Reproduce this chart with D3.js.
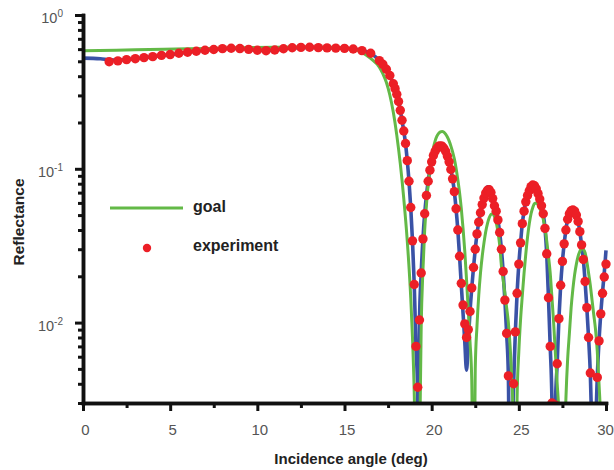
<!DOCTYPE html>
<html>
<head>
<meta charset="utf-8">
<script src="https://cdn.jsdelivr.net/npm/d3@7"></script>
<style>
  body { margin: 0; background: #fff; }
  svg { display: block; }
</style>
</head>
<body>
<svg id="chart" width="614" height="470"></svg>
<script>
// Reflectance versus incidence angle: design target (goal), fitted model and measured points.

// Design target curve [angle (deg), reflectance]
const goalCurve = [
  [0,0.586],[3,0.594],[6,0.603],[9,0.612],[11,0.617],[13,0.619],[14,0.617],[15,0.611],[15.5,0.600],
  [16,0.572],[16.5,0.522],[17,0.458],[17.2,0.415],[17.4,0.365],[17.6,0.302],[17.8,0.233],[18,0.165],
  [18.2,0.108],[18.4,0.064],[18.6,0.034],[18.8,0.0145],[18.9,0.0080],[19,0.0035],[19.1,0.0009],
  [19.2,0.0002],[19.3,0.0012],[19.4,0.0095],[19.5,0.022],[19.6,0.040],[19.7,0.058],[19.8,0.079],
  [19.9,0.100],[20,0.120],[20.1,0.137],[20.2,0.152],[20.3,0.163],[20.4,0.170],[20.5,0.174],[20.6,0.175],
  [20.7,0.173],[20.8,0.168],[20.9,0.161],[21,0.152],[21.1,0.141],[21.2,0.129],[21.3,0.116],[21.4,0.101],
  [21.5,0.085],[21.6,0.070],[21.7,0.055],[21.8,0.041],[21.9,0.029],[22,0.019],[22.1,0.012],[22.2,0.0075],
  [22.3,0.0042],[22.4,0.0003],[22.5,0.0050],[22.6,0.0095],[22.7,0.015],[22.8,0.021],[22.9,0.027],
  [23,0.033],[23.1,0.039],[23.2,0.044],[23.3,0.048],[23.4,0.0505],[23.5,0.051],[23.6,0.049],[23.7,0.045],
  [23.8,0.039],[23.9,0.032],[24,0.0235],[24.1,0.019],[24.2,0.0155],[24.3,0.0125],[24.4,0.0100],
  [24.5,0.0070],[24.6,0.0042],[24.7,0.0020],[24.8,0.0003],[24.9,0.0032],[25,0.0065],[25.1,0.0105],
  [25.2,0.015],[25.3,0.021],[25.4,0.028],[25.5,0.036],[25.6,0.044],[25.7,0.051],[25.8,0.056],[25.9,0.0595],
  [26,0.060],[26.1,0.0585],[26.2,0.0555],[26.3,0.0515],[26.4,0.047],[26.5,0.041],[26.6,0.034],[26.7,0.027],
  [26.8,0.021],[26.9,0.0145],[27,0.0098],[27.1,0.0062],[27.2,0.0040],[27.3,0.0026],[27.4,0.0012],
  [27.5,0.0003],[27.6,0.0012],[27.7,0.0032],[27.8,0.0058],[27.9,0.0085],[28,0.0125],[28.1,0.0165],
  [28.2,0.0205],[28.3,0.024],[28.4,0.027],[28.5,0.029],[28.6,0.0305],[28.7,0.030],[28.8,0.0285],
  [28.9,0.025],[29,0.021],[29.1,0.0175],[29.2,0.014],[29.3,0.0112],[29.4,0.009],[29.5,0.0065],
  [29.6,0.004],[29.7,0.0022],[29.8,0.0006],[29.85,0.0002],[29.9,0.0008],[30,0.003]
];

// Fitted model curve [angle (deg), reflectance]
const fitCurve = [
  [0,0.524],[1,0.519],[1.5,0.512],[2,0.509],[3,0.520],[4,0.536],[5,0.553],[6,0.573],[7,0.590],
  [8,0.604],[8.5,0.607],[9,0.605],[10,0.591],[10.5,0.587],[11,0.592],[12,0.611],[13,0.616],[14,0.611],
  [15,0.607],[15.5,0.601],[16,0.587],[16.5,0.564],[17,0.506],[17.2,0.478],[17.4,0.444],[17.6,0.404],
  [17.8,0.357],[17.9,0.332],[18,0.305],[18.1,0.274],[18.2,0.240],[18.3,0.207],[18.4,0.176],[18.5,0.146],
  [18.6,0.113],[18.7,0.083],[18.8,0.056],[18.9,0.034],[19,0.0177],[19.1,0.0070],[19.2,0.0035],
  [19.24,0.0001],[19.3,0.0100],[19.4,0.021],[19.5,0.035],[19.6,0.051],[19.7,0.067],[19.8,0.083],
  [19.9,0.098],[20,0.111],[20.1,0.122],[20.2,0.131],[20.3,0.137],[20.4,0.141],[20.5,0.142],[20.6,0.141],
  [20.7,0.137],[20.8,0.130],[20.9,0.121],[21,0.111],[21.1,0.099],[21.2,0.086],[21.3,0.071],[21.4,0.055],
  [21.5,0.040],[21.6,0.027],[21.7,0.0175],[21.8,0.0115],[21.9,0.0075],[22,0.0049],[22.1,0.0075],
  [22.2,0.0118],[22.3,0.0168],[22.4,0.0228],[22.5,0.030],[22.6,0.0377],[22.7,0.045],[22.8,0.0525],
  [22.9,0.0595],[23,0.066],[23.1,0.0715],[23.2,0.0765],[23.3,0.0765],[23.4,0.0720],[23.5,0.0650],
  [23.6,0.0585],[23.7,0.0530],[23.8,0.0465],[23.9,0.0385],[24,0.030],[24.1,0.0215],[24.2,0.0140],
  [24.3,0.0085],[24.4,0.0045],[24.5,0.0003],[24.6,0.0012],[24.7,0.0040],[24.8,0.0087],[24.9,0.0155],
  [25,0.024],[25.1,0.033],[25.2,0.044],[25.3,0.053],[25.4,0.061],[25.5,0.0675],[25.6,0.073],[25.7,0.0775],
  [25.8,0.080],[25.9,0.079],[26,0.075],[26.1,0.070],[26.2,0.064],[26.3,0.058],[26.4,0.051],[26.5,0.041],
  [26.6,0.028],[26.7,0.0145],[26.8,0.0070],[26.9,0.0030],[27,0.0002],[27.1,0.0029],[27.2,0.0054],
  [27.3,0.0106],[27.4,0.0175],[27.5,0.025],[27.6,0.0325],[27.7,0.040],[27.8,0.047],[27.9,0.0515],
  [28,0.0545],[28.1,0.0555],[28.2,0.0545],[28.3,0.051],[28.4,0.0455],[28.5,0.039],[28.6,0.032],
  [28.7,0.0257],[28.8,0.0185],[28.9,0.0125],[29,0.0080],[29.1,0.0047],[29.2,0.0018],[29.3,0.0004],
  [29.4,0.0018],[29.5,0.0044],[29.6,0.0076],[29.7,0.0114],[29.8,0.0158],[29.9,0.021],[30,0.0295]
];

// Measured reflectance [angle (deg), reflectance]
const experimentPoints = [
  [1.5,0.497],[2,0.503],[2.5,0.513],[3,0.520],[3.5,0.528],[4,0.536],[4.5,0.546],[5,0.553],[5.5,0.564],
  [6,0.573],[6.5,0.581],[7,0.590],[7.5,0.597],[8,0.604],[8.5,0.608],[9,0.605],[9.5,0.598],[10,0.590],
  [10.5,0.586],[11,0.592],[11.5,0.603],[12,0.612],[12.5,0.616],[13,0.617],[13.5,0.614],[14,0.611],
  [14.5,0.609],[15,0.607],[15.5,0.601],[16,0.587],[16.5,0.564],[17,0.505],[17.2,0.478],[17.4,0.444],
  [17.6,0.404],[17.8,0.357],[17.9,0.332],[18,0.305],[18.1,0.274],[18.2,0.240],[18.3,0.207],[18.4,0.176],
  [18.5,0.146],[18.6,0.113],[18.7,0.083],[18.8,0.056],[18.9,0.034],[19,0.0177],[19.1,0.0070],
  [19.2,0.0038],[19.3,0.0104],[19.4,0.0210],[19.5,0.0350],[19.6,0.0510],[19.7,0.0670],[19.8,0.0830],
  [19.9,0.0980],[20,0.111],[20.1,0.122],[20.2,0.130],[20.3,0.136],[20.4,0.140],[20.5,0.141],[20.6,0.140],
  [20.7,0.136],[20.8,0.130],[20.9,0.121],[21,0.111],[21.1,0.099],[21.2,0.086],[21.3,0.071],[21.4,0.055],
  [21.5,0.040],[21.6,0.027],[21.7,0.018],[21.8,0.0130],[21.9,0.0098],[22,0.0080],[22.1,0.0090],
  [22.2,0.0118],[22.3,0.0168],[22.4,0.0228],[22.5,0.0300],[22.6,0.0377],[22.7,0.0450],[22.8,0.0518],
  [22.9,0.0585],[23,0.0645],[23.1,0.0695],[23.2,0.0725],[23.3,0.0730],[23.4,0.0700],[23.5,0.0640],
  [23.6,0.0575],[23.7,0.0530],[23.8,0.0465],[23.9,0.0385],[24,0.0300],[24.1,0.0215],[24.2,0.0140],
  [24.3,0.0085],[24.4,0.0045],[24.5,0.0012],[24.6,0.0014],[24.7,0.0040],[24.8,0.0087],[24.9,0.0155],
  [25,0.0240],[25.1,0.0330],[25.2,0.0440],[25.3,0.0530],[25.4,0.0610],[25.5,0.0670],[25.6,0.0720],
  [25.7,0.0765],[25.8,0.0785],[25.9,0.0775],[26,0.0740],[26.1,0.0690],[26.2,0.0635],[26.3,0.0575],
  [26.4,0.0510],[26.5,0.0410],[26.6,0.0280],[26.7,0.0145],[26.8,0.0070],[26.9,0.0030],[27,0.0007],
  [27.1,0.0029],[27.2,0.0054],[27.3,0.0106],[27.4,0.0175],[27.5,0.0250],[27.6,0.0325],[27.7,0.0400],
  [27.8,0.0470],[27.9,0.0510],[28,0.0533],[28.1,0.0540],[28.2,0.0530],[28.3,0.0500],[28.4,0.0455],
  [28.5,0.0390],[28.6,0.0320],[28.7,0.0257],[28.8,0.0185],[28.9,0.0125],[29,0.0080],[29.1,0.0047],
  [29.2,0.0020],[29.3,0.0008],[29.4,0.0020],[29.5,0.0044],[29.6,0.0076],[29.7,0.0114],[29.8,0.0155],
  [29.9,0.0198],[30,0.0240]
];

// Axis ticks and labels
const xMajorTicks = [0, 5, 10, 15, 20, 25, 30];
const xMinorTicks = [2.5, 7.5, 12.5, 17.5, 22.5, 27.5];
const yDecades = [1, 0.1, 0.01];
const yMinorMultipliers = [2, 3, 4, 5, 6, 7, 8, 9];
const xTitle = "Incidence angle (deg)";
const yTitle = "Reflectance";
const legendLabels = { goal: "goal", experiment: "experiment" };

const colors = { goal: "#63b947", fit: "#3a52a6", experiment: "#ec1f26", axis: "#111", tick: "#555", title: "#222" };
const font = "'Liberation Sans', Arial, Helvetica, sans-serif";

const svg = d3.select("#chart");
const plot = { left: 83, right: 606, top: 15, bottom: 403 };

const x = d3.scaleLinear().domain([0, 30]).range([plot.left, plot.right]);
const y = d3.scaleLog().domain([0.003, 1]).range([plot.bottom, plot.top]);

// Clip data below the x axis
svg.append("defs").append("clipPath").attr("id", "plotClip")
  .append("rect").attr("x", 0).attr("y", 0).attr("width", 614).attr("height", plot.bottom);

const line = d3.line()
  .x(d => x(d[0]))
  .y(d => y(d[1]))
  .curve(d3.curveMonotoneX);

const data = svg.append("g").attr("clip-path", "url(#plotClip)");

data.append("path")
  .attr("d", line(fitCurve))
  .attr("fill", "none")
  .attr("stroke", colors.fit)
  .attr("stroke-width", 3.6)
  .attr("stroke-linejoin", "round");

data.append("path")
  .attr("d", line(goalCurve))
  .attr("fill", "none")
  .attr("stroke", colors.goal)
  .attr("stroke-width", 3)
  .attr("stroke-linejoin", "round");

data.selectAll("circle.exp")
  .data(experimentPoints)
  .join("circle")
  .attr("class", "exp")
  .attr("cx", d => x(d[0]))
  .attr("cy", d => y(d[1]))
  .attr("r", 4.7)
  .attr("fill", colors.experiment);

// X axis
const xAxisG = svg.append("g").attr("transform", `translate(0,${plot.bottom})`);
xAxisG.call(d3.axisBottom(x).tickValues(xMinorTicks).tickSize(5).tickSizeOuter(0).tickFormat(""));
const xMajorG = svg.append("g").attr("transform", `translate(0,${plot.bottom})`);
xMajorG.call(d3.axisBottom(x).tickValues(xMajorTicks).tickSize(8).tickSizeOuter(0).tickPadding(13).tickFormat(d3.format("d")));

[xAxisG, xMajorG].forEach(g => {
  g.select(".domain").attr("stroke", colors.axis).attr("stroke-width", 3.5).attr("stroke-linecap", "square");
  g.selectAll(".tick line").attr("stroke", colors.axis).attr("stroke-width", 3);
});
xMajorG.selectAll(".tick text")
  .attr("font-family", font).attr("font-size", 15).attr("fill", colors.tick)
  .attr("dx", (d, i, n) => i === n.length - 1 ? -1 : 2);

// Y axis (log)
const yMinorValues = [];
[0.001, 0.01, 0.1].forEach(dec => yMinorMultipliers.forEach(m => {
  const v = +(m * dec).toPrecision(3);
  if (v >= 0.003 && v < 1) yMinorValues.push(v);
}));
const yAxisG = svg.append("g").attr("transform", `translate(${plot.left},0)`);
yAxisG.call(d3.axisLeft(y).tickValues(yMinorValues).tickSize(5).tickSizeOuter(0).tickFormat(""));
const yMajorG = svg.append("g").attr("transform", `translate(${plot.left},0)`);
yMajorG.call(d3.axisLeft(y).tickValues(yDecades).tickSize(8).tickSizeOuter(0).tickFormat(""));
[yAxisG, yMajorG].forEach(g => {
  g.select(".domain").attr("stroke", colors.axis).attr("stroke-width", 3.5).attr("stroke-linecap", "square");
  g.selectAll(".tick line").attr("stroke", colors.axis).attr("stroke-width", 3);
});

// Decade labels 10^n
const yLabels = svg.append("g");
yDecades.forEach(v => {
  const t = yLabels.append("text")
    .attr("x", 63)
    .attr("y", y(v) + 8)
    .attr("text-anchor", "end")
    .attr("font-family", font)
    .attr("fill", colors.tick);
  t.append("tspan").attr("font-size", 14.5).text("10");
  t.append("tspan").attr("font-size", 10).attr("dy", -6).text(String(Math.round(Math.log10(v))));
});

// Axis titles
svg.append("text")
  .attr("x", 351).attr("y", 464)
  .attr("text-anchor", "middle")
  .attr("font-family", font).attr("font-weight", "bold").attr("font-size", 15)
  .attr("fill", colors.title)
  .text(xTitle);

svg.append("text")
  .attr("transform", "translate(24,222) rotate(-90)")
  .attr("text-anchor", "middle")
  .attr("font-family", font).attr("font-weight", "bold").attr("font-size", 15.5)
  .attr("fill", colors.title)
  .text(yTitle);

// Legend
const legend = svg.append("g");
legend.append("line")
  .attr("x1", 110).attr("x2", 183).attr("y1", 208).attr("y2", 208)
  .attr("stroke", colors.goal).attr("stroke-width", 3);
legend.append("text")
  .attr("x", 193).attr("y", 212)
  .attr("font-family", font).attr("font-weight", "bold").attr("font-size", 16)
  .attr("fill", colors.title)
  .text(legendLabels.goal);
legend.append("circle")
  .attr("cx", 147).attr("cy", 248).attr("r", 4.2)
  .attr("fill", colors.experiment);
legend.append("text")
  .attr("x", 193).attr("y", 251)
  .attr("font-family", font).attr("font-weight", "bold").attr("font-size", 16)
  .attr("fill", colors.title)
  .text(legendLabels.experiment);
</script>
</body>
</html>
